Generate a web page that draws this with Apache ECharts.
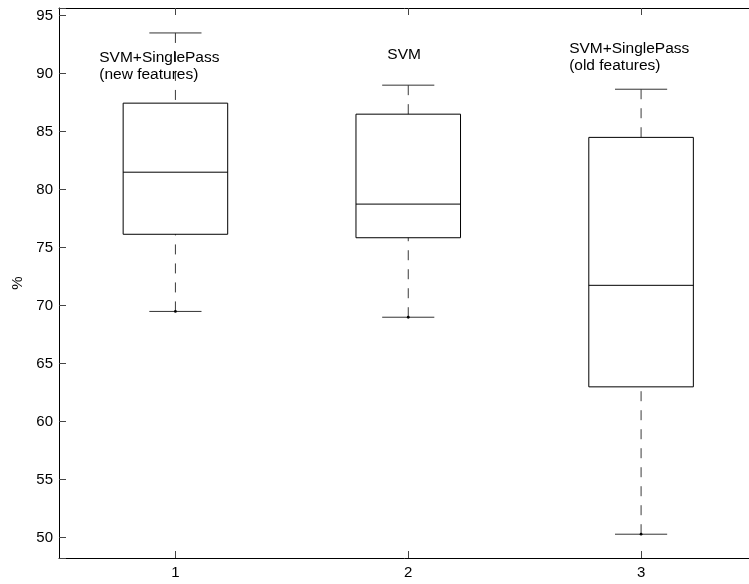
<!DOCTYPE html>
<html>
<head>
<meta charset="utf-8">
<script src="https://cdn.jsdelivr.net/npm/echarts@6/dist/echarts.min.js"></script>
<style>
html,body{margin:0;padding:0;background:#fff;}
#chart{width:749px;height:584px;}
</style>
</head>
<body>
<div id="chart"></div>
<script>
// ---- data ----
const categories = ['1', '2', '3'];
const lowerWhisker = [69.5, 69.0, 50.3];
const q1 = [76.15, 75.85, 63.0];
const median = [81.5, 78.75, 71.75];
const q3 = [87.45, 86.5, 84.5];
const upperWhisker = [93.5, 89.0, 88.65];
const boxNotes = ['SVM+SinglePass\n(new features)', 'SVM', 'SVM+SinglePass\n(old features)'];
const noteValue = [91.35, 91.6, 92.1];   // y (in %) of the first text line of each note
const yAxisName = '%';

// ---- layout / style ----
const FONT = '"Liberation Sans", Arial, Helvetica, sans-serif';
const noteShift = [-0.327, -0.09, -0.309]; // horizontal shift of notes, in category widths

const chart = echarts.init(document.getElementById('chart'), null, {renderer: 'canvas'});

const boxData = categories.map((c, i) => [i, lowerWhisker[i], q1[i], median[i], q3[i], upperWhisker[i]]);
const noteData = categories.map((c, i) => [i, noteValue[i]]);

function renderBox(params, api) {
  const i = api.value(0);
  const bw = api.size([1, 0])[0];
  const x = api.coord([i, api.value(3)])[0];
  const yLw = api.coord([i, api.value(1)])[1];
  const yQ1 = api.coord([i, api.value(2)])[1];
  const yMed = api.coord([i, api.value(3)])[1];
  const yQ3 = api.coord([i, api.value(4)])[1];
  const yUw = api.coord([i, api.value(5)])[1];
  const hb = bw * 0.2245, hc = bw * 0.112;
  const whiskerStyle = {stroke: '#3a3a3a', lineWidth: 1, lineDash: [10, 9], fill: null};
  const solid = {stroke: '#000', lineWidth: 1, fill: null};
  const capStyle = {stroke: '#333', lineWidth: 1, fill: null};
  return {
    type: 'group',
    children: [
      {type: 'line', shape: {x1: x, y1: yUw, x2: x, y2: yQ3}, style: whiskerStyle},
      {type: 'line', shape: {x1: x, y1: yLw, x2: x, y2: yQ1}, style: whiskerStyle},
      {type: 'line', shape: {x1: x - hc, y1: yUw, x2: x + hc, y2: yUw}, style: capStyle},
      {type: 'line', shape: {x1: x - hc, y1: yLw, x2: x + hc, y2: yLw}, style: capStyle},
      {type: 'rect', shape: {x: x - hb, y: yQ3, width: 2 * hb, height: yQ1 - yQ3}, style: solid},
      {type: 'line', shape: {x1: x - hb, y1: yMed, x2: x + hb, y2: yMed}, style: solid},
      {type: 'circle', shape: {cx: x, cy: yLw, r: 1.4}, style: {fill: '#000'}}
    ]
  };
}

function renderNote(params, api) {
  const i = api.value(0);
  const bw = api.size([1, 0])[0];
  const p = api.coord([i, api.value(1)]);
  return {
    type: 'text',
    x: p[0] + noteShift[i] * bw,
    y: p[1] - 8.5,
    style: {
      text: boxNotes[i],
      fill: '#000',
      font: '15.5px ' + FONT,
      lineHeight: 17,
      align: 'left',
      verticalAlign: 'top'
    }
  };
}

const option = {
  animation: false,
  backgroundColor: '#fff',
  textStyle: {fontFamily: FONT},
  grid: {left: 59, top: 8, width: 698.5, height: 550, containLabel: false, outerBoundsMode: 'none'},
  xAxis: [
    {
      type: 'category', data: categories, position: 'bottom', boundaryGap: true,
      axisLine: {show: true, lineStyle: {color: '#000', width: 1}},
      axisTick: {show: true, inside: true, length: 7, alignWithLabel: true, lineStyle: {color: '#444'}},
      axisLabel: {color: '#000', fontSize: 15, fontFamily: FONT, margin: 7},
      splitLine: {show: false}
    },
    {
      type: 'category', data: categories, position: 'top', boundaryGap: true,
      axisLine: {show: true, lineStyle: {color: '#000', width: 1}},
      axisTick: {show: true, inside: true, length: 7, alignWithLabel: true, lineStyle: {color: '#444'}},
      axisLabel: {show: false},
      splitLine: {show: false}
    }
  ],
  yAxis: {
    type: 'value', min: 48.25, max: 95.65, minInterval: 5, maxInterval: 5, splitNumber: 9,
    name: yAxisName, nameLocation: 'middle', nameRotate: 90, nameGap: 33,
    nameTextStyle: {color: '#000', fontSize: 15, fontFamily: FONT},
    axisLine: {show: true, lineStyle: {color: '#000', width: 1}},
    axisTick: {show: true, inside: true, length: 7, lineStyle: {color: '#444'}},
    axisLabel: {
      color: '#000', fontSize: 15, fontFamily: FONT, margin: 6,
      formatter: function (v) {
        const r = v / 5;
        return Math.abs(r - Math.round(r)) < 1e-6 ? String(Math.round(v)) : '';
      }
    },
    splitLine: {show: false}
  },
  series: [
    {
      type: 'custom', name: 'box', xAxisIndex: 0, renderItem: renderBox,
      encode: {x: 0, y: [1, 2, 3, 4, 5]}, data: boxData, z: 2
    },
    {
      type: 'custom', name: 'notes', xAxisIndex: 0, renderItem: renderNote,
      encode: {x: 0, y: 1}, data: noteData, z: 3, silent: true
    }
  ]
};
chart.setOption(option);
</script>
</body>
</html>
